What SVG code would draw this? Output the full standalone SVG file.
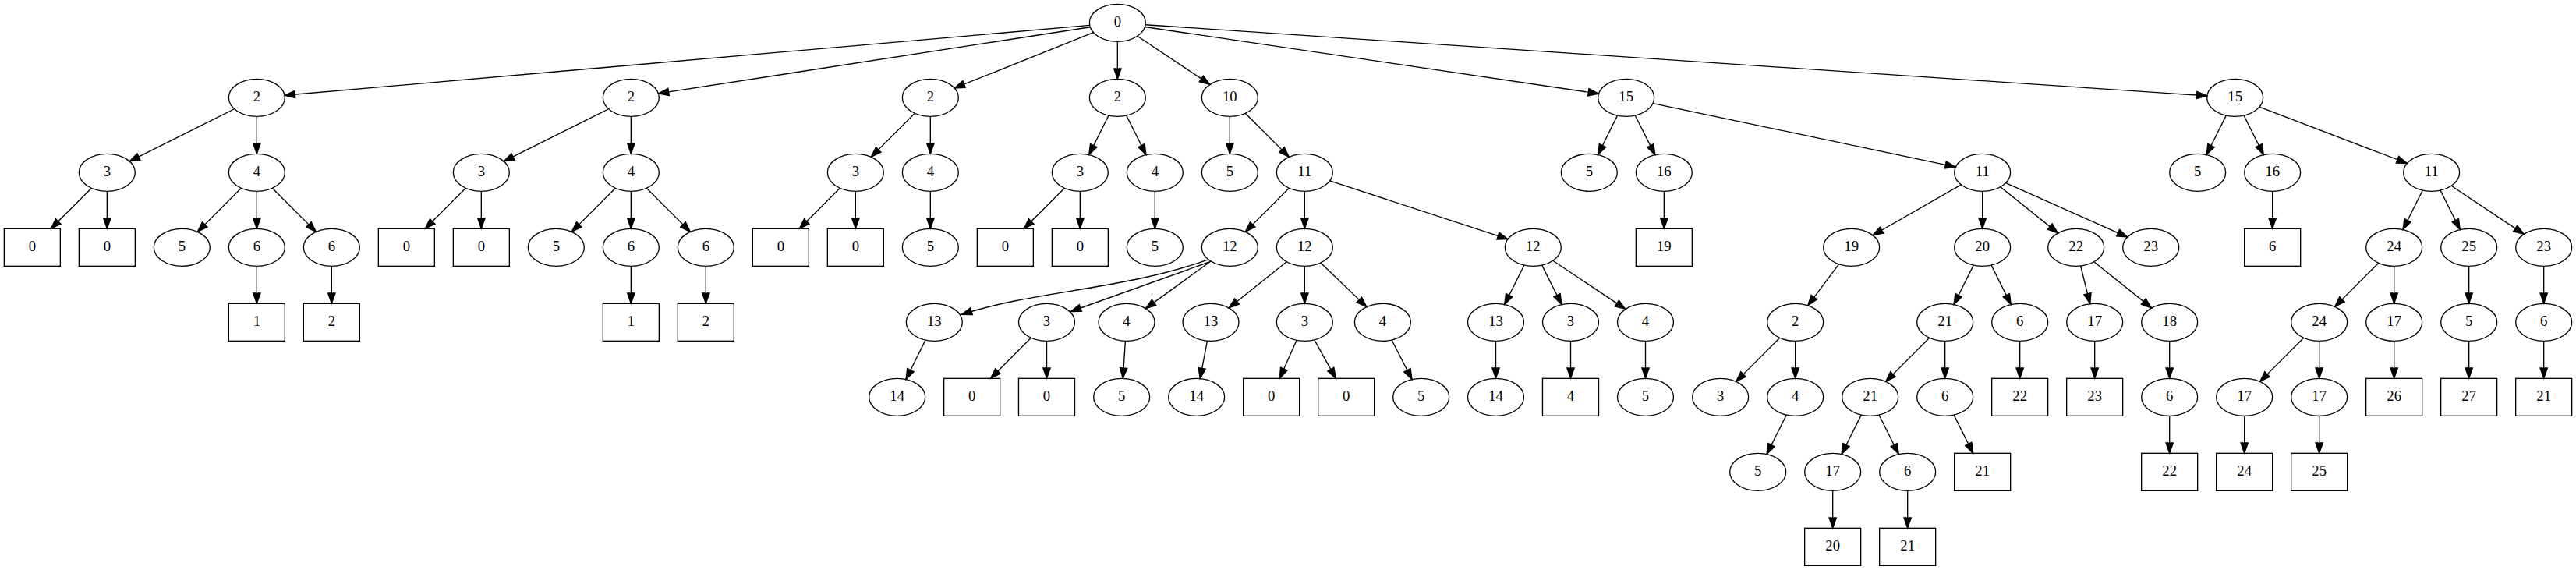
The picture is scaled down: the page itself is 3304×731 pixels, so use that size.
<svg xmlns="http://www.w3.org/2000/svg" width="3304" height="731" viewBox="0 0 3304 731">
<style>
ellipse,rect.b{fill:none;stroke:#000;stroke-width:1.33}
text{font-family:"Liberation Serif","Times New Roman",serif;font-size:18.67px;text-anchor:middle;fill:#000}
#edges line,#edges path{stroke:#000;stroke-width:1.33;fill:none;marker-end:url(#a)}
</style>
<defs>
<marker id="a" markerWidth="14" markerHeight="10" refX="13.33" refY="4.67" orient="auto" markerUnits="userSpaceOnUse" viewBox="0 0 14 10" overflow="visible"><path d="M0,0 L13.33,4.67 L0,9.33 z" fill="#000" stroke="#000" stroke-width="1.33"/></marker>
</defs>
<rect width="3304" height="731" fill="#fff"/>
<g id="edges">
<line x1="1397.63" y1="32.43" x2="365.03" y2="122.23"/>
<line x1="1398.25" y1="34.73" x2="844.41" y2="119.93"/>
<line x1="1402.46" y1="41.68" x2="1224.20" y2="112.98"/>
<line x1="1433.33" y1="53.33" x2="1433.33" y2="101.33"/>
<line x1="1458.79" y1="46.30" x2="1551.87" y2="108.36"/>
<line x1="1468.48" y1="34.50" x2="2050.52" y2="120.16"/>
<line x1="1469.15" y1="31.73" x2="2830.85" y2="122.93"/>
<line x1="300.53" y1="139.73" x2="166.13" y2="206.93"/>
<line x1="329.33" y1="149.33" x2="329.33" y2="197.33"/>
<line x1="780.53" y1="139.73" x2="646.13" y2="206.93"/>
<line x1="809.33" y1="149.33" x2="809.33" y2="197.33"/>
<line x1="1173.36" y1="145.30" x2="1117.30" y2="201.36"/>
<line x1="1193.33" y1="149.33" x2="1193.33" y2="197.33"/>
<line x1="1421.95" y1="148.10" x2="1396.71" y2="198.56"/>
<line x1="1444.71" y1="148.10" x2="1469.95" y2="198.56"/>
<line x1="1577.33" y1="149.33" x2="1577.33" y2="197.33"/>
<line x1="1597.30" y1="145.30" x2="1653.36" y2="201.36"/>
<line x1="2074.43" y1="148.12" x2="2049.57" y2="198.54"/>
<line x1="2097.17" y1="148.07" x2="2122.83" y2="198.59"/>
<line x1="2120.01" y1="132.54" x2="2508.33" y2="214.12"/>
<line x1="2855.29" y1="148.10" x2="2830.05" y2="198.56"/>
<line x1="2878.05" y1="148.10" x2="2903.29" y2="198.56"/>
<line x1="2897.93" y1="137.24" x2="3087.41" y2="209.42"/>
<line x1="117.36" y1="241.30" x2="65.33" y2="293.33"/>
<line x1="137.33" y1="245.33" x2="137.33" y2="293.33"/>
<line x1="309.36" y1="241.30" x2="253.30" y2="297.36"/>
<line x1="329.33" y1="245.33" x2="329.33" y2="293.33"/>
<line x1="349.30" y1="241.30" x2="405.36" y2="297.36"/>
<line x1="597.36" y1="241.30" x2="545.33" y2="293.33"/>
<line x1="617.33" y1="245.33" x2="617.33" y2="293.33"/>
<line x1="789.36" y1="241.30" x2="733.30" y2="297.36"/>
<line x1="809.33" y1="245.33" x2="809.33" y2="293.33"/>
<line x1="829.30" y1="241.30" x2="885.36" y2="297.36"/>
<line x1="1077.36" y1="241.30" x2="1025.33" y2="293.33"/>
<line x1="1097.33" y1="245.33" x2="1097.33" y2="293.33"/>
<line x1="1193.33" y1="245.33" x2="1193.33" y2="293.33"/>
<line x1="1365.36" y1="241.30" x2="1313.33" y2="293.33"/>
<line x1="1385.33" y1="245.33" x2="1385.33" y2="293.33"/>
<line x1="1481.33" y1="245.33" x2="1481.33" y2="293.33"/>
<line x1="1653.36" y1="241.30" x2="1597.30" y2="297.36"/>
<line x1="1673.33" y1="245.33" x2="1673.33" y2="293.33"/>
<line x1="1705.64" y1="231.92" x2="1934.02" y2="306.74"/>
<line x1="2134.33" y1="245.33" x2="2134.33" y2="293.33"/>
<line x1="2515.34" y1="236.95" x2="2402.00" y2="301.71"/>
<line x1="2542.67" y1="245.33" x2="2542.67" y2="293.33"/>
<line x1="2565.72" y1="239.77" x2="2639.62" y2="298.89"/>
<line x1="2572.62" y1="234.64" x2="2728.72" y2="304.02"/>
<line x1="2914.67" y1="245.33" x2="2914.67" y2="293.33"/>
<line x1="3107.29" y1="244.10" x2="3082.05" y2="294.56"/>
<line x1="3130.05" y1="244.10" x2="3155.29" y2="294.56"/>
<line x1="3144.13" y1="238.30" x2="3237.21" y2="300.36"/>
<line x1="329.33" y1="341.33" x2="329.33" y2="389.33"/>
<line x1="425.33" y1="341.33" x2="425.33" y2="389.33"/>
<line x1="809.33" y1="341.33" x2="809.33" y2="389.33"/>
<line x1="905.33" y1="341.33" x2="905.33" y2="389.33"/>
<path d="M1548.3,333.3 C1440,372 1330,372 1233.3,403.3"/>
<line x1="1551" y1="336" x2="1373.3" y2="399.5"/>
<line x1="1552.97" y1="335.00" x2="1469.36" y2="395.66"/>
<line x1="1650.23" y1="335.75" x2="1576.10" y2="394.91"/>
<line x1="1673.33" y1="341.33" x2="1673.33" y2="389.33"/>
<line x1="1693.86" y1="337.04" x2="1752.87" y2="393.62"/>
<line x1="1954.95" y1="340.10" x2="1929.71" y2="390.56"/>
<line x1="1977.71" y1="340.10" x2="2002.95" y2="390.56"/>
<line x1="1991.79" y1="334.30" x2="2084.87" y2="396.36"/>
<line x1="2358.57" y1="338.80" x2="2318.77" y2="391.86"/>
<line x1="2531.29" y1="340.10" x2="2506.05" y2="390.56"/>
<line x1="2554.05" y1="340.10" x2="2579.29" y2="390.56"/>
<line x1="2668.59" y1="341.00" x2="2680.75" y2="389.66"/>
<line x1="2685.72" y1="335.77" x2="2759.62" y2="394.89"/>
<line x1="3050.70" y1="337.30" x2="2994.64" y2="393.36"/>
<line x1="3070.67" y1="341.33" x2="3070.67" y2="389.33"/>
<line x1="3166.67" y1="341.33" x2="3166.67" y2="389.33"/>
<line x1="3262.67" y1="341.33" x2="3262.67" y2="389.33"/>
<line x1="1187.02" y1="436.11" x2="1161.98" y2="486.55"/>
<line x1="1322.41" y1="433.32" x2="1270.57" y2="485.33"/>
<line x1="1342.5" y1="437.33" x2="1342.5" y2="485.33"/>
<line x1="1443.42" y1="437.32" x2="1440.25" y2="485.34"/>
<line x1="1548.45" y1="437.14" x2="1539.22" y2="485.52"/>
<line x1="1663.10" y1="436.34" x2="1641.34" y2="485.33"/>
<line x1="1685.83" y1="435.83" x2="1713.33" y2="485.33"/>
<line x1="1785.05" y1="436.03" x2="1811.02" y2="486.63"/>
<line x1="1918.5" y1="437.33" x2="1918.5" y2="485.33"/>
<line x1="2014.5" y1="437.33" x2="2014.5" y2="485.33"/>
<line x1="2110.5" y1="437.33" x2="2110.5" y2="485.33"/>
<line x1="2282.70" y1="433.30" x2="2226.64" y2="489.36"/>
<line x1="2302.67" y1="437.33" x2="2302.67" y2="485.33"/>
<line x1="2474.70" y1="433.30" x2="2418.64" y2="489.36"/>
<line x1="2494.67" y1="437.33" x2="2494.67" y2="485.33"/>
<line x1="2590.67" y1="437.33" x2="2590.67" y2="485.33"/>
<line x1="2686.67" y1="437.33" x2="2686.67" y2="485.33"/>
<line x1="2782.67" y1="437.33" x2="2782.67" y2="485.33"/>
<line x1="2954.70" y1="433.30" x2="2898.64" y2="489.36"/>
<line x1="2974.67" y1="437.33" x2="2974.67" y2="485.33"/>
<line x1="3070.67" y1="437.33" x2="3070.67" y2="485.33"/>
<line x1="3166.67" y1="437.33" x2="3166.67" y2="485.33"/>
<line x1="3262.67" y1="437.33" x2="3262.67" y2="485.33"/>
<line x1="2291.29" y1="532.10" x2="2266.05" y2="582.56"/>
<line x1="2387.29" y1="532.10" x2="2362.05" y2="582.56"/>
<line x1="2410.05" y1="532.10" x2="2435.29" y2="582.56"/>
<line x1="2506.05" y1="532.10" x2="2530.67" y2="581.33"/>
<line x1="2782.67" y1="533.33" x2="2782.67" y2="581.33"/>
<line x1="2878.67" y1="533.33" x2="2878.67" y2="581.33"/>
<line x1="2974.67" y1="533.33" x2="2974.67" y2="581.33"/>
<line x1="2350.67" y1="629.33" x2="2350.67" y2="677.33"/>
<line x1="2446.67" y1="629.33" x2="2446.67" y2="677.33"/>
</g>
<g id="n0"><ellipse cx="1433.33" cy="29.33" rx="36" ry="24"/><text x="1433.33" y="34.33">0</text></g>
<g id="n1"><ellipse cx="329.33" cy="125.33" rx="36" ry="24"/><text x="329.33" y="130.33">2</text></g>
<g id="n2"><ellipse cx="809.33" cy="125.33" rx="36" ry="24"/><text x="809.33" y="130.33">2</text></g>
<g id="n3"><ellipse cx="1193.33" cy="125.33" rx="36" ry="24"/><text x="1193.33" y="130.33">2</text></g>
<g id="n4"><ellipse cx="1433.33" cy="125.33" rx="36" ry="24"/><text x="1433.33" y="130.33">2</text></g>
<g id="n5"><ellipse cx="1577.33" cy="125.33" rx="36" ry="24"/><text x="1577.33" y="130.33">10</text></g>
<g id="n6"><ellipse cx="2085.67" cy="125.33" rx="36" ry="24"/><text x="2085.67" y="130.33">15</text></g>
<g id="n7"><ellipse cx="2866.67" cy="125.33" rx="36" ry="24"/><text x="2866.67" y="130.33">15</text></g>
<g id="n8"><ellipse cx="137.33" cy="221.33" rx="36" ry="24"/><text x="137.33" y="226.33">3</text></g>
<g id="n9"><ellipse cx="329.33" cy="221.33" rx="36" ry="24"/><text x="329.33" y="226.33">4</text></g>
<g id="n10"><ellipse cx="617.33" cy="221.33" rx="36" ry="24"/><text x="617.33" y="226.33">3</text></g>
<g id="n11"><ellipse cx="809.33" cy="221.33" rx="36" ry="24"/><text x="809.33" y="226.33">4</text></g>
<g id="n12"><ellipse cx="1097.33" cy="221.33" rx="36" ry="24"/><text x="1097.33" y="226.33">3</text></g>
<g id="n13"><ellipse cx="1193.33" cy="221.33" rx="36" ry="24"/><text x="1193.33" y="226.33">4</text></g>
<g id="n14"><ellipse cx="1385.33" cy="221.33" rx="36" ry="24"/><text x="1385.33" y="226.33">3</text></g>
<g id="n15"><ellipse cx="1481.33" cy="221.33" rx="36" ry="24"/><text x="1481.33" y="226.33">4</text></g>
<g id="n16"><ellipse cx="1577.33" cy="221.33" rx="36" ry="24"/><text x="1577.33" y="226.33">5</text></g>
<g id="n17"><ellipse cx="1673.33" cy="221.33" rx="36" ry="24"/><text x="1673.33" y="226.33">11</text></g>
<g id="n18"><ellipse cx="2038.33" cy="221.33" rx="36" ry="24"/><text x="2038.33" y="226.33">5</text></g>
<g id="n19"><ellipse cx="2134.33" cy="221.33" rx="36" ry="24"/><text x="2134.33" y="226.33">16</text></g>
<g id="n20"><ellipse cx="2542.67" cy="221.33" rx="36" ry="24"/><text x="2542.67" y="226.33">11</text></g>
<g id="n21"><ellipse cx="2818.67" cy="221.33" rx="36" ry="24"/><text x="2818.67" y="226.33">5</text></g>
<g id="n22"><ellipse cx="2914.67" cy="221.33" rx="36" ry="24"/><text x="2914.67" y="226.33">16</text></g>
<g id="n23"><ellipse cx="3118.67" cy="221.33" rx="36" ry="24"/><text x="3118.67" y="226.33">11</text></g>
<g id="n24"><rect class="b" x="5.33" y="293.33" width="72" height="48"/><text x="41.33" y="322.33">0</text></g>
<g id="n25"><rect class="b" x="101.33" y="293.33" width="72" height="48"/><text x="137.33" y="322.33">0</text></g>
<g id="n26"><ellipse cx="233.33" cy="317.33" rx="36" ry="24"/><text x="233.33" y="322.33">5</text></g>
<g id="n27"><ellipse cx="329.33" cy="317.33" rx="36" ry="24"/><text x="329.33" y="322.33">6</text></g>
<g id="n28"><ellipse cx="425.33" cy="317.33" rx="36" ry="24"/><text x="425.33" y="322.33">6</text></g>
<g id="n29"><rect class="b" x="485.33" y="293.33" width="72" height="48"/><text x="521.33" y="322.33">0</text></g>
<g id="n30"><rect class="b" x="581.33" y="293.33" width="72" height="48"/><text x="617.33" y="322.33">0</text></g>
<g id="n31"><ellipse cx="713.33" cy="317.33" rx="36" ry="24"/><text x="713.33" y="322.33">5</text></g>
<g id="n32"><ellipse cx="809.33" cy="317.33" rx="36" ry="24"/><text x="809.33" y="322.33">6</text></g>
<g id="n33"><ellipse cx="905.33" cy="317.33" rx="36" ry="24"/><text x="905.33" y="322.33">6</text></g>
<g id="n34"><rect class="b" x="965.33" y="293.33" width="72" height="48"/><text x="1001.33" y="322.33">0</text></g>
<g id="n35"><rect class="b" x="1061.33" y="293.33" width="72" height="48"/><text x="1097.33" y="322.33">0</text></g>
<g id="n36"><ellipse cx="1193.33" cy="317.33" rx="36" ry="24"/><text x="1193.33" y="322.33">5</text></g>
<g id="n37"><rect class="b" x="1253.33" y="293.33" width="72" height="48"/><text x="1289.33" y="322.33">0</text></g>
<g id="n38"><rect class="b" x="1349.33" y="293.33" width="72" height="48"/><text x="1385.33" y="322.33">0</text></g>
<g id="n39"><ellipse cx="1481.33" cy="317.33" rx="36" ry="24"/><text x="1481.33" y="322.33">5</text></g>
<g id="n40"><ellipse cx="1577.33" cy="317.33" rx="36" ry="24"/><text x="1577.33" y="322.33">12</text></g>
<g id="n41"><ellipse cx="1673.33" cy="317.33" rx="36" ry="24"/><text x="1673.33" y="322.33">12</text></g>
<g id="n42"><ellipse cx="1966.33" cy="317.33" rx="36" ry="24"/><text x="1966.33" y="322.33">12</text></g>
<g id="n43"><rect class="b" x="2098.33" y="293.33" width="72" height="48"/><text x="2134.33" y="322.33">19</text></g>
<g id="n44"><ellipse cx="2374.67" cy="317.33" rx="36" ry="24"/><text x="2374.67" y="322.33">19</text></g>
<g id="n45"><ellipse cx="2542.67" cy="317.33" rx="36" ry="24"/><text x="2542.67" y="322.33">20</text></g>
<g id="n46"><ellipse cx="2662.67" cy="317.33" rx="36" ry="24"/><text x="2662.67" y="322.33">22</text></g>
<g id="n47"><ellipse cx="2758.67" cy="317.33" rx="36" ry="24"/><text x="2758.67" y="322.33">23</text></g>
<g id="n48"><rect class="b" x="2878.67" y="293.33" width="72" height="48"/><text x="2914.67" y="322.33">6</text></g>
<g id="n49"><ellipse cx="3070.67" cy="317.33" rx="36" ry="24"/><text x="3070.67" y="322.33">24</text></g>
<g id="n50"><ellipse cx="3166.67" cy="317.33" rx="36" ry="24"/><text x="3166.67" y="322.33">25</text></g>
<g id="n51"><ellipse cx="3262.67" cy="317.33" rx="36" ry="24"/><text x="3262.67" y="322.33">23</text></g>
<g id="n52"><rect class="b" x="293.33" y="389.33" width="72" height="48"/><text x="329.33" y="418.33">1</text></g>
<g id="n53"><rect class="b" x="389.33" y="389.33" width="72" height="48"/><text x="425.33" y="418.33">2</text></g>
<g id="n54"><rect class="b" x="773.33" y="389.33" width="72" height="48"/><text x="809.33" y="418.33">1</text></g>
<g id="n55"><rect class="b" x="869.33" y="389.33" width="72" height="48"/><text x="905.33" y="418.33">2</text></g>
<g id="n56"><ellipse cx="1198.33" cy="413.33" rx="36" ry="24"/><text x="1198.33" y="418.33">13</text></g>
<g id="n57"><ellipse cx="1342.5" cy="413.33" rx="36" ry="24"/><text x="1342.5" y="418.33">3</text></g>
<g id="n58"><ellipse cx="1445" cy="413.33" rx="36" ry="24"/><text x="1445" y="418.33">4</text></g>
<g id="n59"><ellipse cx="1553" cy="413.33" rx="36" ry="24"/><text x="1553" y="418.33">13</text></g>
<g id="n60"><ellipse cx="1673.33" cy="413.33" rx="36" ry="24"/><text x="1673.33" y="418.33">3</text></g>
<g id="n61"><ellipse cx="1773.4" cy="413.33" rx="36" ry="24"/><text x="1773.4" y="418.33">4</text></g>
<g id="n62"><ellipse cx="1918.5" cy="413.33" rx="36" ry="24"/><text x="1918.5" y="418.33">13</text></g>
<g id="n63"><ellipse cx="2014.5" cy="413.33" rx="36" ry="24"/><text x="2014.5" y="418.33">3</text></g>
<g id="n64"><ellipse cx="2110.5" cy="413.33" rx="36" ry="24"/><text x="2110.5" y="418.33">4</text></g>
<g id="n65"><ellipse cx="2302.67" cy="413.33" rx="36" ry="24"/><text x="2302.67" y="418.33">2</text></g>
<g id="n66"><ellipse cx="2494.67" cy="413.33" rx="36" ry="24"/><text x="2494.67" y="418.33">21</text></g>
<g id="n67"><ellipse cx="2590.67" cy="413.33" rx="36" ry="24"/><text x="2590.67" y="418.33">6</text></g>
<g id="n68"><ellipse cx="2686.67" cy="413.33" rx="36" ry="24"/><text x="2686.67" y="418.33">17</text></g>
<g id="n69"><ellipse cx="2782.67" cy="413.33" rx="36" ry="24"/><text x="2782.67" y="418.33">18</text></g>
<g id="n70"><ellipse cx="2974.67" cy="413.33" rx="36" ry="24"/><text x="2974.67" y="418.33">24</text></g>
<g id="n71"><ellipse cx="3070.67" cy="413.33" rx="36" ry="24"/><text x="3070.67" y="418.33">17</text></g>
<g id="n72"><ellipse cx="3166.67" cy="413.33" rx="36" ry="24"/><text x="3166.67" y="418.33">5</text></g>
<g id="n73"><ellipse cx="3262.67" cy="413.33" rx="36" ry="24"/><text x="3262.67" y="418.33">6</text></g>
<g id="n74"><ellipse cx="1150.67" cy="509.33" rx="36" ry="24"/><text x="1150.67" y="514.33">14</text></g>
<g id="n75"><rect class="b" x="1210.67" y="485.33" width="72" height="48"/><text x="1246.67" y="514.33">0</text></g>
<g id="n76"><rect class="b" x="1306.5" y="485.33" width="72" height="48"/><text x="1342.5" y="514.33">0</text></g>
<g id="n77"><ellipse cx="1438.67" cy="509.33" rx="36" ry="24"/><text x="1438.67" y="514.33">5</text></g>
<g id="n78"><ellipse cx="1534.67" cy="509.33" rx="36" ry="24"/><text x="1534.67" y="514.33">14</text></g>
<g id="n79"><rect class="b" x="1594.67" y="485.33" width="72" height="48"/><text x="1630.67" y="514.33">0</text></g>
<g id="n80"><rect class="b" x="1690.67" y="485.33" width="72" height="48"/><text x="1726.67" y="514.33">0</text></g>
<g id="n81"><ellipse cx="1822.67" cy="509.33" rx="36" ry="24"/><text x="1822.67" y="514.33">5</text></g>
<g id="n82"><ellipse cx="1918.5" cy="509.33" rx="36" ry="24"/><text x="1918.5" y="514.33">14</text></g>
<g id="n83"><rect class="b" x="1978.5" y="485.33" width="72" height="48"/><text x="2014.5" y="514.33">4</text></g>
<g id="n84"><ellipse cx="2110.5" cy="509.33" rx="36" ry="24"/><text x="2110.5" y="514.33">5</text></g>
<g id="n85"><ellipse cx="2206.67" cy="509.33" rx="36" ry="24"/><text x="2206.67" y="514.33">3</text></g>
<g id="n86"><ellipse cx="2302.67" cy="509.33" rx="36" ry="24"/><text x="2302.67" y="514.33">4</text></g>
<g id="n87"><ellipse cx="2398.67" cy="509.33" rx="36" ry="24"/><text x="2398.67" y="514.33">21</text></g>
<g id="n88"><ellipse cx="2494.67" cy="509.33" rx="36" ry="24"/><text x="2494.67" y="514.33">6</text></g>
<g id="n89"><rect class="b" x="2554.67" y="485.33" width="72" height="48"/><text x="2590.67" y="514.33">22</text></g>
<g id="n90"><rect class="b" x="2650.67" y="485.33" width="72" height="48"/><text x="2686.67" y="514.33">23</text></g>
<g id="n91"><ellipse cx="2782.67" cy="509.33" rx="36" ry="24"/><text x="2782.67" y="514.33">6</text></g>
<g id="n92"><ellipse cx="2878.67" cy="509.33" rx="36" ry="24"/><text x="2878.67" y="514.33">17</text></g>
<g id="n93"><ellipse cx="2974.67" cy="509.33" rx="36" ry="24"/><text x="2974.67" y="514.33">17</text></g>
<g id="n94"><rect class="b" x="3034.67" y="485.33" width="72" height="48"/><text x="3070.67" y="514.33">26</text></g>
<g id="n95"><rect class="b" x="3130.67" y="485.33" width="72" height="48"/><text x="3166.67" y="514.33">27</text></g>
<g id="n96"><rect class="b" x="3226.67" y="485.33" width="72" height="48"/><text x="3262.67" y="514.33">21</text></g>
<g id="n97"><ellipse cx="2254.67" cy="605.33" rx="36" ry="24"/><text x="2254.67" y="610.33">5</text></g>
<g id="n98"><ellipse cx="2350.67" cy="605.33" rx="36" ry="24"/><text x="2350.67" y="610.33">17</text></g>
<g id="n99"><ellipse cx="2446.67" cy="605.33" rx="36" ry="24"/><text x="2446.67" y="610.33">6</text></g>
<g id="n100"><rect class="b" x="2506.67" y="581.33" width="72" height="48"/><text x="2542.67" y="610.33">21</text></g>
<g id="n101"><rect class="b" x="2746.67" y="581.33" width="72" height="48"/><text x="2782.67" y="610.33">22</text></g>
<g id="n102"><rect class="b" x="2842.67" y="581.33" width="72" height="48"/><text x="2878.67" y="610.33">24</text></g>
<g id="n103"><rect class="b" x="2938.67" y="581.33" width="72" height="48"/><text x="2974.67" y="610.33">25</text></g>
<g id="n104"><rect class="b" x="2314.67" y="677.33" width="72" height="48"/><text x="2350.67" y="706.33">20</text></g>
<g id="n105"><rect class="b" x="2410.67" y="677.33" width="72" height="48"/><text x="2446.67" y="706.33">21</text></g>
</svg>
